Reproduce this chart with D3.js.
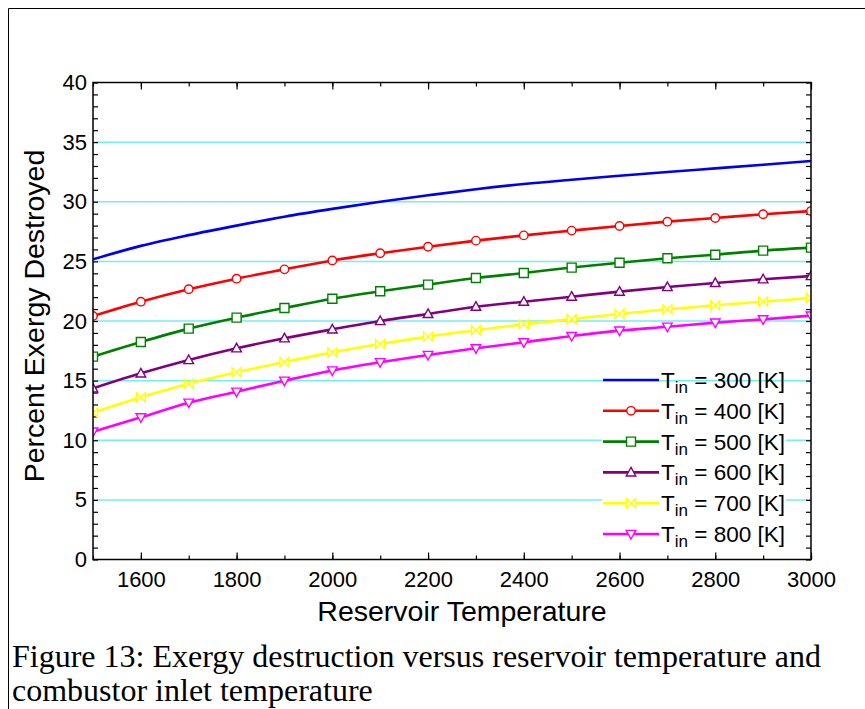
<!DOCTYPE html>
<html>
<head>
<meta charset="utf-8">
<script src="https://cdn.jsdelivr.net/npm/d3@7"></script>
<style>
  body { margin: 0; background: #fff; }
  svg { display: block; }
</style>
</head>
<body>
<div id="chart-area"></div>
<script>
// reservoir temperature (x) and the six inlet temperature series
var temps = [1500, 1600, 1700, 1800, 1900, 2000, 2100, 2200, 2300, 2400, 2500, 2600, 2700, 2800, 2900, 3000];
var t300 = [25.17, 26.3, 27.2, 28.0, 28.75, 29.4, 30.0, 30.54, 31.05, 31.49, 31.85, 32.18, 32.5, 32.8, 33.1, 33.42];
var t400 = [20.42, 21.62, 22.66, 23.55, 24.33, 25.08, 25.68, 26.23, 26.74, 27.18, 27.58, 27.97, 28.33, 28.64, 28.95, 29.22];
var t500 = [17.01, 18.24, 19.36, 20.28, 21.09, 21.86, 22.49, 23.05, 23.6, 24.03, 24.48, 24.89, 25.26, 25.56, 25.9, 26.15];
var t600 = [14.35, 15.61, 16.73, 17.71, 18.55, 19.3, 20.0, 20.59, 21.2, 21.62, 22.04, 22.46, 22.85, 23.19, 23.5, 23.77];
var t700 = [12.31, 13.6, 14.74, 15.7, 16.56, 17.37, 18.07, 18.69, 19.22, 19.72, 20.17, 20.59, 20.98, 21.32, 21.62, 21.93];
var t800 = [10.72, 11.92, 13.15, 14.07, 14.99, 15.85, 16.54, 17.15, 17.71, 18.21, 18.74, 19.19, 19.52, 19.86, 20.14, 20.45];
var inletLabels = ["300", "400", "500", "600", "700", "800"];
var xTicks = [1600, 1800, 2000, 2200, 2400, 2600, 2800, 3000];
var yTicks = [0, 5, 10, 15, 20, 25, 30, 35, 40];
var gridValues = [5, 10, 15, 20, 25, 30, 35];

var series = [
  {name: inletLabels[0], values: t300, color: "#0000f0", marker: "none"},
  {name: inletLabels[1], values: t400, color: "#ff0000", marker: "circle"},
  {name: inletLabels[2], values: t500, color: "#008000", marker: "square"},
  {name: inletLabels[3], values: t600, color: "#800080", marker: "up"},
  {name: inletLabels[4], values: t700, color: "#ffff00", marker: "bowtie"},
  {name: inletLabels[5], values: t800, color: "#ff00ff", marker: "down"}
];

var W = 865, H = 709;
var pL = 93, pR = 811, pT = 82.5, pB = 559.5;

var svg = d3.select("#chart-area").append("svg").attr("width", W).attr("height", H);

// page border (top and left edges)
svg.append("path")
  .attr("d", "M8.5," + H + "V8.5H" + W)
  .attr("fill", "none").attr("stroke", "#000").attr("stroke-width", 1);

var x = d3.scaleLinear().domain([1500, 3000]).range([pL, pR]);
var y = d3.scaleLinear().domain([0, 40]).range([pB, pT]);

svg.append("defs").append("clipPath").attr("id", "plotclip")
  .append("rect").attr("x", pL).attr("y", pT).attr("width", pR - pL).attr("height", pB - pT);

// grid lines
svg.append("g").selectAll("line").data(gridValues).enter().append("line")
  .attr("x1", pL).attr("x2", pR)
  .attr("y1", (d) => y(d)).attr("y2", (d) => y(d))
  .attr("stroke", "#74efef").attr("stroke-width", 1.5);

// ticks (inward, on all four sides)
var minorX = d3.range(1500, 3001, 100);
var minorY = d3.range(0, 41, 1);
function tickGroup(axis, tx, ty) {
  var g = svg.append("g").attr("transform", "translate(" + tx + "," + ty + ")").call(axis);
  g.select(".domain").remove();
  g.selectAll(".tick line").attr("stroke", "#000").attr("stroke-width", 1.2);
  return g;
}
tickGroup(d3.axisBottom(x).tickValues(minorX).tickSize(-4).tickFormat(""), 0, pB);
tickGroup(d3.axisTop(x).tickValues(minorX).tickSize(-4).tickFormat(""), 0, pT);
tickGroup(d3.axisBottom(x).tickValues(xTicks).tickSize(-7).tickFormat(""), 0, pB);
tickGroup(d3.axisTop(x).tickValues(xTicks).tickSize(-7).tickFormat(""), 0, pT);
tickGroup(d3.axisLeft(y).tickValues(minorY).tickSize(-5).tickFormat(""), pL, 0);
tickGroup(d3.axisRight(y).tickValues(minorY).tickSize(-5).tickFormat(""), pR, 0);

// tick labels
var xl = svg.append("g").attr("transform", "translate(0," + pB + ")")
  .call(d3.axisBottom(x).tickValues(xTicks).tickSize(0).tickPadding(12).tickFormat(d3.format("d")));
xl.select(".domain").remove();
xl.selectAll("text").attr("font-family", "Liberation Sans, Arial, sans-serif").attr("font-size", 22).attr("fill", "#000");

var yl = svg.append("g").attr("transform", "translate(" + pL + ",0)")
  .call(d3.axisLeft(y).tickValues(yTicks).tickSize(0).tickPadding(6).tickFormat(d3.format("d")));
yl.select(".domain").remove();
yl.selectAll("text").attr("font-family", "Liberation Sans, Arial, sans-serif").attr("font-size", 22).attr("fill", "#000");

// series lines
var line = d3.line()
  .x((d, i) => x(temps[i]))
  .y((d) => y(d))
  .curve(d3.curveMonotoneX);

var plot = svg.append("g").attr("clip-path", "url(#plotclip)");

function markerPath(type) {
  if (type === "circle") return d3.symbol(d3.symbolCircle, 56)();
  if (type === "square") return "M-4.5,-4.5H4.5V4.5H-4.5Z";
  if (type === "up") return "M0,-5L4.8,3.6H-4.8Z";
  if (type === "down") return "M0,5L4.8,-3.6H-4.8Z";
  if (type === "bowtie") return "M-4.5,-4.5L4.5,4.5V-4.5L-4.5,4.5Z";
  return null;
}

series.forEach((s) => {
  plot.append("path")
    .attr("d", line(s.values))
    .attr("fill", "none")
    .attr("stroke", s.color)
    .attr("stroke-width", 2.6);
  var p = markerPath(s.marker);
  if (p) {
    plot.append("g").selectAll("path").data(s.values).enter().append("path")
      .attr("d", p)
      .attr("transform", (d, i) => "translate(" + x(temps[i]) + "," + y(d) + ")")
      .attr("fill", "#fff")
      .attr("stroke", s.color)
      .attr("stroke-width", 1.4);
  }
});

// plot frame
svg.append("rect")
  .attr("x", pL).attr("y", pT).attr("width", pR - pL).attr("height", pB - pT)
  .attr("fill", "none").attr("stroke", "#000").attr("stroke-width", 1.5);

// legend
svg.append("rect").attr("x", 602).attr("y", 394).attr("width", 184).attr("height", 156).attr("fill", "#fff");
var leg = svg.append("g");
series.forEach((s, i) => {
  var ly = 380 + i * 30.8;
  leg.append("line").attr("x1", 603).attr("x2", 659).attr("y1", ly).attr("y2", ly)
    .attr("stroke", s.color).attr("stroke-width", 2.6);
  var p = markerPath(s.marker);
  if (p) {
    leg.append("path").attr("d", p).attr("transform", "translate(631," + ly + ")")
      .attr("fill", "#fff").attr("stroke", s.color).attr("stroke-width", 1.4);
  }
  var t = leg.append("text").attr("x", 661).attr("y", ly + 8)
    .attr("font-family", "Liberation Sans, Arial, sans-serif").attr("font-size", 22.5).attr("fill", "#000");
  t.append("tspan").text("T");
  t.append("tspan").attr("font-size", 17).attr("dy", 5).text("in");
  t.append("tspan").attr("dy", -5).text(" = " + s.name + " [K]");
});

// axis titles
svg.append("text").attr("x", (pL + pR) / 2 + 10).attr("y", 621)
  .attr("text-anchor", "middle")
  .attr("font-family", "Liberation Sans, Arial, sans-serif").attr("font-size", 28.5)
  .text("Reservoir Temperature");

svg.append("text")
  .attr("transform", "translate(44," + ((pT + pB) / 2 - 5) + ") rotate(-90)")
  .attr("text-anchor", "middle")
  .attr("font-family", "Liberation Sans, Arial, sans-serif").attr("font-size", 28.5)
  .text("Percent Exergy Destroyed");

// caption
var cap = svg.append("text").attr("font-family", "Liberation Serif, Times New Roman, serif").attr("font-size", 32);
cap.append("tspan").attr("x", 12).attr("y", 667).text("Figure 13: Exergy destruction versus reservoir temperature and");
cap.append("tspan").attr("x", 12).attr("y", 701).text("combustor inlet temperature");
</script>
</body>
</html>
